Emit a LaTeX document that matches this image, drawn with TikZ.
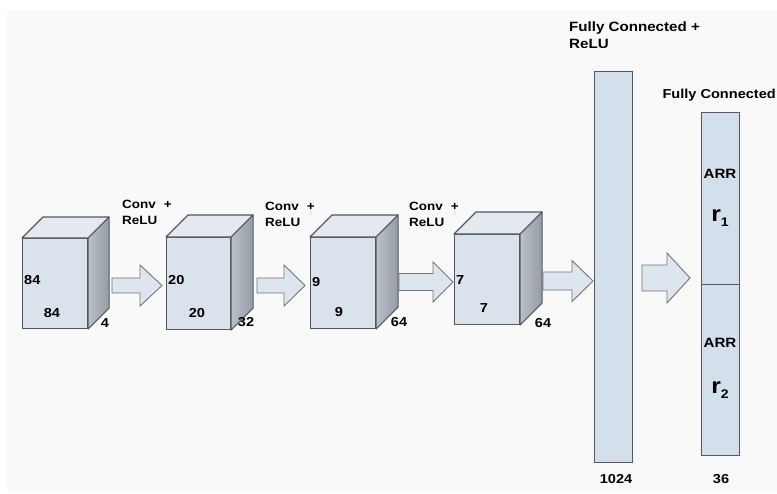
\documentclass[tikz,border=0pt]{standalone}
\usepackage{fontspec}
\setmainfont{Liberation Sans}[FakeStretch=1.12]
\usetikzlibrary{calc}

\definecolor{bgcol}{RGB}{249,249,249}
\definecolor{frontcol}{RGB}{218,226,236}
\definecolor{topcol}{RGB}{228,233,240}
\definecolor{sidelight}{RGB}{186,192,200}
\definecolor{sidedark}{RGB}{150,156,165}
\definecolor{edgecol}{RGB}{85,87,92}
\definecolor{barcol}{RGB}{212,223,236}
\definecolor{arrowfill}{RGB}{221,230,239}
\definecolor{arrowedge}{RGB}{112,116,122}

\tikzset{
  frontface/.style={draw=edgecol, line width=1.1pt, fill=frontcol, inner sep=0pt, anchor=north west},
  edgeline/.style={draw=edgecol, line width=1.1pt, line join=round},
  barbox/.style={draw=edgecol, line width=1.4pt, fill=barcol, inner sep=0pt, anchor=north west},
  blockarrow/.style={draw=arrowedge, line width=0.9pt, fill=arrowfill, line join=miter},
  dimlabel/.style={font=\bfseries\fontsize{13}{13}\selectfont, inner sep=0pt, text=black},
  oplabel/.style={font=\bfseries\fontsize{12}{16}\selectfont, inner sep=0pt, align=left, anchor=north west},
  fclabel/.style={font=\bfseries\fontsize{13.5}{17}\selectfont, inner sep=0pt, align=left, anchor=north west},
  arrlabel/.style={font=\bfseries\fontsize{13.5}{13}\selectfont, inner sep=0pt},
}

% cube: name, left, top, width, height, depth
\newcommand\cnncube[6]{%
  \node[frontface, minimum width=#4pt, minimum height=#5pt] (#1) at (#2,#3) {};
  \path[edgeline, fill=topcol] (#1.north west) -- ++(#6,-#6) -- ($(#1.north east)+(#6,-#6)$) -- (#1.north east) -- cycle;
  \path[edgeline, left color=sidelight, right color=sidedark] (#1.north east) -- ++(#6,-#6) -- ($(#1.south east)+(#6,-#6)$) -- (#1.south east) -- cycle;
}

% block arrow: name, tail x, head base x, tip x, centre y, half shaft, half head
\newcommand\blockarr[7]{%
  \coordinate (#1) at (#4,#5);
  \path[blockarrow] ({#2},{#5-#6}) -- ({#3},{#5-#6}) -- ({#3},{#5-#7}) -- (#1)
    -- ({#3},{#5+#7}) -- ({#3},{#5+#6}) -- ({#2},{#5+#6}) -- cycle;
}

\begin{document}
\begin{tikzpicture}[x=1pt, y=-1pt]
  \useasboundingbox (0,0) rectangle (777,493);
  \fill[white] (0,0) rectangle (777,493);
  \fill[bgcol] (7,10) rectangle (777,493);

  % convolutional volumes
  \cnncube{cubeA}{22}{238}{65}{90}{21}
  \cnncube{cubeB}{166}{237}{64}{92}{22}
  \cnncube{cubeC}{310}{237}{65}{91}{22}
  \cnncube{cubeD}{454}{234}{65}{90}{22}

  % volume sizes
  \node[dimlabel, anchor=west] (hA) at (24,280) {84};
  \node[dimlabel] (wA) at (52,313) {84};
  \node[dimlabel] (dA) at (105,323) {4};
  \node[dimlabel, anchor=west] (hB) at (168,280) {20};
  \node[dimlabel] (wB) at (197,313) {20};
  \node[dimlabel] (dB) at (246,322) {32};
  \node[dimlabel, anchor=west] (hC) at (312,282) {9};
  \node[dimlabel] (wC) at (339,312) {9};
  \node[dimlabel] (dC) at (399,322) {64};
  \node[dimlabel, anchor=west] (hD) at (456,280) {7};
  \node[dimlabel] (wD) at (484,308) {7};
  \node[dimlabel] (dD) at (543,323) {64};

  % layer operations
  \node[oplabel] (opA) at (122,200) {Conv\hspace{8pt}+\\ReLU};
  \node[oplabel] (opB) at (265,202) {Conv\hspace{8pt}+\\ReLU};
  \node[oplabel] (opC) at (409,202) {Conv\hspace{8pt}+\\ReLU};

  % block arrows between stages
  \blockarr{arrA}{112}{140}{162}{285.5}{7.5}{20.5}
  \blockarr{arrB}{257}{284}{305}{285.5}{7.5}{20.5}
  \blockarr{arrC}{399}{433}{453}{282}{8.5}{20}
  \blockarr{arrD}{543}{572}{593}{281}{9}{20.5}
  \blockarr{arrE}{642}{667}{690}{278}{13}{25}

  % fully connected layers
  \node[barbox, minimum width=38pt, minimum height=391pt] (fc) at (594,71) {};
  \node[barbox, minimum width=38pt, minimum height=172pt] (out1) at (701,112) {};
  \node[barbox, minimum width=38pt, minimum height=171pt] (out2) at (701,284) {};

  \node[fclabel] (fcA) at (569,22) {Fully Connected +\\ReLU};
  \node[fclabel, font=\bfseries\fontsize{13}{17}\selectfont, anchor=north east] (fcB) at (776,89) {Fully Connected};

  \node[arrlabel] (arrT) at (720,174) {ARR};
  \node[inner sep=0pt, font=\bfseries] (rT) at (720,218) {\fontsize{22}{22}\selectfont r\raisebox{-5pt}{\fontsize{12.5}{12}\selectfont 1}};
  \node[arrlabel] (arrB2) at (720,343) {ARR};
  \node[inner sep=0pt, font=\bfseries] (rB) at (720,390) {\fontsize{22}{22}\selectfont r\raisebox{-5pt}{\fontsize{12.5}{12}\selectfont 2}};

  \node[dimlabel] (nFc) at (616,479) {1024};
  \node[dimlabel] (nOut) at (721,479) {36};
\end{tikzpicture}
\end{document}
